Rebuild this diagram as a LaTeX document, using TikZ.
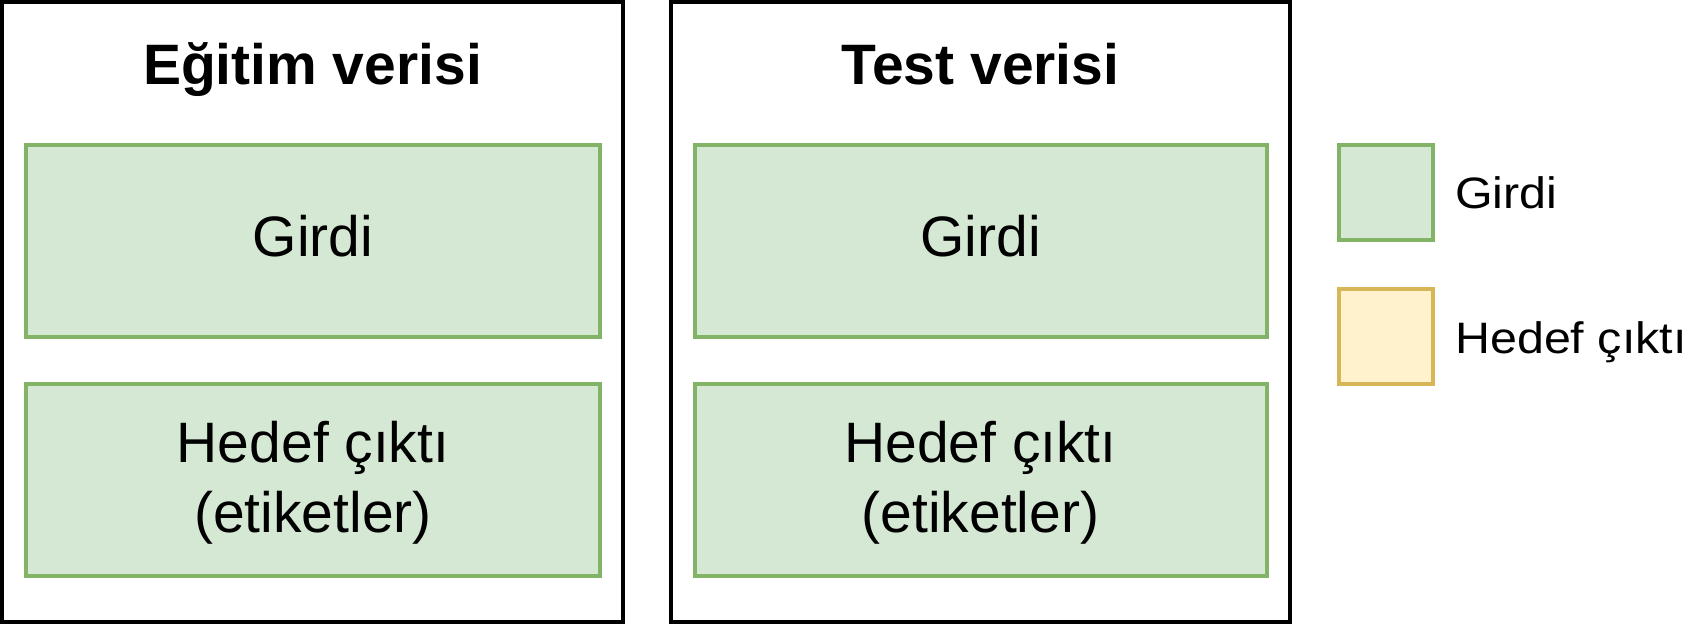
\documentclass[tikz,border=0pt]{standalone}
\usepackage{fontspec}
\setmainfont{Liberation Sans}
\definecolor{gfill}{HTML}{D5E8D4}
\definecolor{gdraw}{HTML}{82B366}
\definecolor{yfill}{HTML}{FFF2CC}
\definecolor{ydraw}{HTML}{D6B656}
\tikzset{
  outerbox/.style={draw=black, line width=3pt, fill=white, inner sep=0pt},
  greenbox/.style={draw=gdraw, fill=gfill, line width=3pt, inner sep=0pt},
  yellowbox/.style={draw=ydraw, fill=yfill, line width=3pt, inner sep=0pt},
  boxtext/.style={inner sep=0pt, align=center, font=\fontsize{42.75}{52.5}\selectfont},
  titletext/.style={inner sep=0pt, anchor=base, font=\fontsize{42.75}{52.5}\selectfont\bfseries},
  legendtext/.style={inner sep=0pt, anchor=base west, font=\fontsize{33}{40}\selectfont}
}
\begin{document}
\begin{tikzpicture}[x=0.75pt,y=-0.75pt]
\useasboundingbox (0,0) rectangle (1696,624);
% outer boxes
\node[outerbox, minimum width=465.75pt, minimum height=465pt] (train) at (312.5,312) {};
\node[outerbox, minimum width=464.25pt, minimum height=465pt] (test) at (980.5,312) {};
% titles
\node[titletext] (traintitle) at (312.5,85) {Eğitim verisi};
\node[titletext] (testtitle) at (980.5,85) {Test verisi};
% inner boxes
\node[greenbox, minimum width=430.5pt, minimum height=144pt] (trin) at (313,241) {};
\node[greenbox, minimum width=430.5pt, minimum height=144pt] (trout) at (313,480) {};
\node[greenbox, minimum width=429pt, minimum height=144pt] (tein) at (980.5,241) {};
\node[greenbox, minimum width=429pt, minimum height=144pt] (teout) at (980.5,480) {};
\node[boxtext, anchor=base] (trintext) at (313,257) {Girdi};
\node[boxtext] (trouttext) at (313,483) {Hedef çıktı\\(etiketler)};
\node[boxtext, anchor=base] (teintext) at (980.5,257) {Girdi};
\node[boxtext] (teouttext) at (980.5,483) {Hedef çıktı\\(etiketler)};
% legend
\node[greenbox, minimum width=70.5pt, minimum height=71.25pt] (leggreen) at (1386,192.5) {};
\node[yellowbox, minimum width=70.5pt, minimum height=71.25pt] (legyellow) at (1386,336.5) {};
\node[legendtext] (leggreentext) at (1455,209) {\scalebox{1.1}[1]{Girdi}};
\node[legendtext] (legyellowtext) at (1455,353) {\scalebox{1.1}[1]{Hedef çıktı}};
\end{tikzpicture}
\end{document}
